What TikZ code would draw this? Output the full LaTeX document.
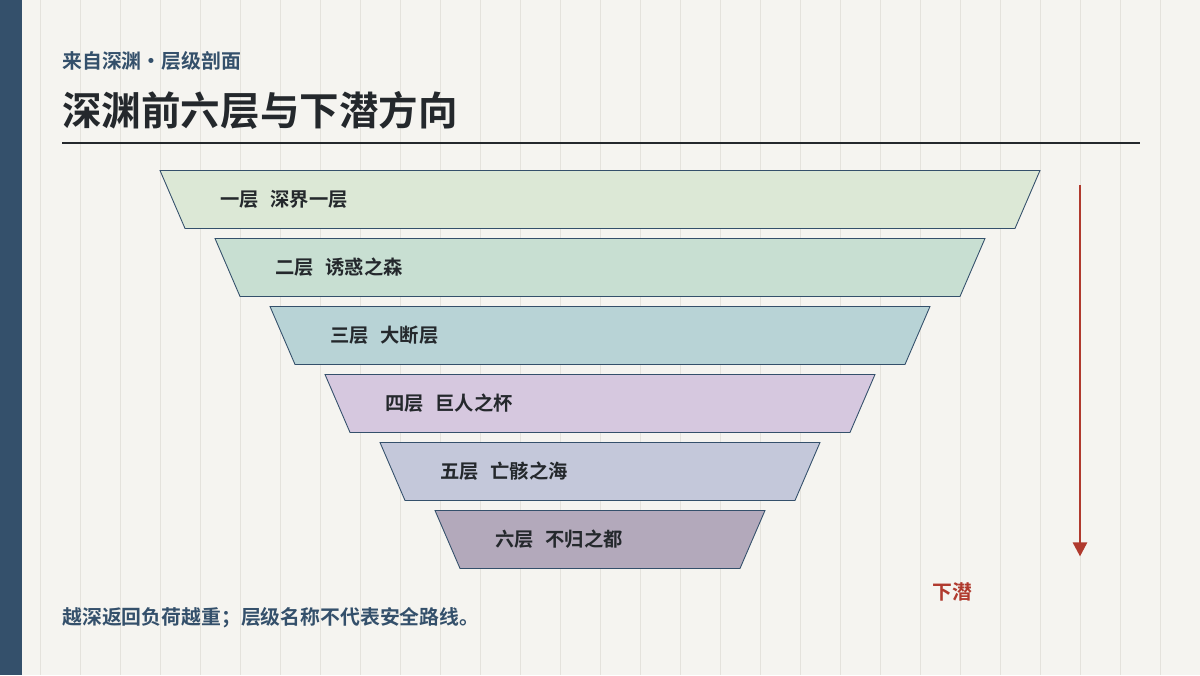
\documentclass[tikz,border=0pt]{standalone}
\usepackage{fontspec}
\setmainfont{Noto Sans CJK SC}
\newfontfamily\cjkbold{Noto Sans CJK SC Bold}
\usetikzlibrary{positioning,arrows.meta}

\definecolor{navy}{HTML}{34506B}
\definecolor{paper}{HTML}{F5F4F0}
\definecolor{gridline}{HTML}{E4E2DC}
\definecolor{ink}{HTML}{24282C}
\definecolor{diveRed}{HTML}{B03A2E}
\definecolor{layerA}{HTML}{DCE8D6}
\definecolor{layerB}{HTML}{C8DFD2}
\definecolor{layerC}{HTML}{B8D3D6}
\definecolor{layerD}{HTML}{D6C8DF}
\definecolor{layerE}{HTML}{C4C8DA}
\definecolor{layerF}{HTML}{B3A9BB}

\begin{document}
\begin{tikzpicture}[x=0.02cm,y=-0.02cm]
  \tikzstyle{layer} = [
    % The border:
    draw=navy, line width=0.5pt
  ];
  \tikzstyle{layerLabel} = [
    % Just text!
    anchor=west, inner sep=0pt, text=ink, font=\cjkbold\fontsize{11}{13}\selectfont
  ];
  \tikzstyle{dive} = [
    draw=diveRed, line width=1.5pt, -{Triangle[length=8pt,width=8pt]}
  ];

  % background and grid
  \fill[paper] (0,0) rectangle (1200,675);
  \foreach \gx in {40,80,...,1160}
    \draw[gridline, line width=0.5pt] (\gx,0) -- (\gx,675);
  \fill[navy] (0,0) rectangle (22,675);

  % heading
  \node[anchor=west, inner sep=0pt, text=navy, font=\cjkbold\fontsize{11.3}{13}\selectfont]
    (subtitle) at (62,61) {来自深渊·层级剖面};
  \node[anchor=west, inner sep=0pt, text=ink, font=\cjkbold\fontsize{22.5}{26}\selectfont]
    (title) at (62,110) {深渊前六层与下潜方向};
  \draw[ink, line width=1.2pt] (62,143) -- (1140,143);

  % layers
  \foreach \i/\fillc/\txt in {0/layerA/{一层\hspace{0.6em}深界一层},
                              1/layerB/{二层\hspace{0.6em}诱惑之森},
                              2/layerC/{三层\hspace{0.6em}大断层},
                              3/layerD/{四层\hspace{0.6em}巨人之杯},
                              4/layerE/{五层\hspace{0.6em}亡骸之海},
                              5/layerF/{六层\hspace{0.6em}不归之都}} {
    \draw[layer, fill=\fillc] ({160+55*\i},{170+68*\i}) -- ({1040-55*\i},{170+68*\i})
      -- ({1015-55*\i},{228+68*\i}) -- ({185+55*\i},{228+68*\i}) -- cycle;
    \node[layerLabel] (layer\i) at ({220+55*\i},{199+68*\i}) {\txt};
  }

  % dive direction
  \coordinate (diveTop) at (1080,185);
  \coordinate (diveEnd) at (1080,556);
  \path[dive] (diveTop) to (diveEnd);
  \node[text=diveRed, font=\cjkbold\fontsize{11.3}{13}\selectfont] (diveLabel) at (952,591) {下潜};

  \node[anchor=west, inner sep=0pt, text=navy, font=\cjkbold\fontsize{11.3}{13}\selectfont]
    (note) at (62,617) {越深返回负荷越重；层级名称不代表安全路线。};
\end{tikzpicture}
\end{document}
